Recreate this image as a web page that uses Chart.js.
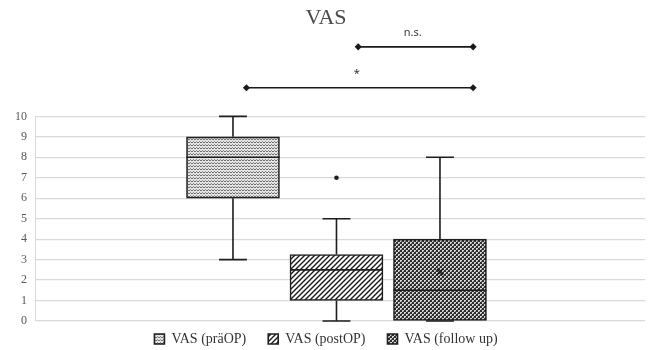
<!DOCTYPE html>
<html>
<head>
<meta charset="utf-8">
<script src="https://cdn.jsdelivr.net/npm/chart.js@4.4.0/dist/chart.umd.min.js"></script>
<style>
  html, body { margin: 0; padding: 0; background: #fff; }
  #wrap { width: 652px; height: 350px; }
</style>
</head>
<body>
<div id="wrap"><canvas id="myChart"></canvas></div>
<script>
// Werte
var seriesLabels = ['VAS (präOP)', 'VAS (postOP)', 'VAS (follow up)'];
var boxPositions = [0, 1, 2];
var minValues = [3, 0, 0];
var q1Values = [6, 1, 0];
var medianValues = [8, 2.5, 1.5];
var q3Values = [9, 3.25, 4];
var maxValues = [10, 5, 8];
var meanValues = [null, null, 2.4];
var outlierValues = [[], [7], []];

// Signifikanzbalken oben
var bracketLabels = ['n.s.', '*'];
var bracketLevels = [13.4, 11.4];
var bracketStart = [1.21, 0.13];
var bracketEnd = [2.32, 2.32];

function makePattern(kind) {
    var c = document.createElement('canvas');
    var g = c.getContext('2d');
    if (kind === 'wave') {
        c.width = 6; c.height = 3;
        g.fillStyle = '#e4e4e4';
        g.fillRect(0, 0, 6, 3);
        g.strokeStyle = '#6e6e6e';
        g.lineWidth = 1;
        g.beginPath();
        g.moveTo(0, 2); g.lineTo(1.5, 0.5); g.lineTo(3, 2); g.lineTo(4.5, 0.5); g.lineTo(6, 2);
        g.stroke();
    } else if (kind === 'diag') {
        c.width = 5; c.height = 5;
        g.fillStyle = '#ffffff';
        g.fillRect(0, 0, 5, 5);
        g.strokeStyle = '#1a1a1a';
        g.lineWidth = 1.4;
        g.beginPath();
        g.moveTo(-1, 6); g.lineTo(6, -1);
        g.moveTo(-1, 1); g.lineTo(1, -1);
        g.moveTo(4, 6); g.lineTo(6, 4);
        g.stroke();
    } else {
        c.width = 4; c.height = 4;
        g.fillStyle = '#2e2e2e';
        g.fillRect(0, 0, 4, 4);
        g.fillStyle = '#d8d8d8';
        g.fillRect(0, 0, 2, 2);
        g.fillRect(2, 2, 2, 2);
        g.fillStyle = '#6a6a6a';
        g.fillRect(1, 1, 1, 1);
        g.fillRect(3, 3, 1, 1);
    }
    return document.getElementById('myChart').getContext('2d').createPattern(c, 'repeat');
}

var patterns = [makePattern('wave'), makePattern('diag'), makePattern('check')];

var datasets = [];
for (var i = 0; i < seriesLabels.length; i++) {
    datasets.push({
        type: 'bar',
        label: seriesLabels[i],
        data: [{x: boxPositions[i], y: [q1Values[i], q3Values[i]]}],
        grouped: false,
        barThickness: 93,
        backgroundColor: patterns[i],
        borderColor: '#1e1e1e',
        borderWidth: 1.6,
        borderSkipped: false
    });
}
for (var j = 0; j < bracketLabels.length; j++) {
    datasets.push({
        type: 'line',
        label: bracketLabels[j],
        isBracket: true,
        data: [{x: bracketStart[j], y: bracketLevels[j]}, {x: bracketEnd[j], y: bracketLevels[j]}],
        borderColor: '#1a1a1a',
        backgroundColor: '#1a1a1a',
        borderWidth: 1.6,
        pointRadius: 0,
        clip: false
    });
}

// Whisker, Median, Mittelwert, Ausreißer, Signifikanz
var boxPlugin = {
    id: 'boxWhisker',
    afterLayout: function (chart) {
        // Legende etwas nach oben ziehen
        chart.legend.top -= 11;
    },
    afterDatasetsDraw: function (chart) {
        var ctx = chart.ctx;
        var y = chart.scales.y;
        ctx.save();
        ctx.strokeStyle = '#1e1e1e';
        ctx.fillStyle = '#1e1e1e';
        ctx.lineWidth = 1.6;
        for (var i = 0; i < seriesLabels.length; i++) {
            var bar = chart.getDatasetMeta(i).data[0];
            var cx = bar.x;
            var halfCap = bar.width * 0.15;
            var left = bar.x - bar.width / 2;
            var right = bar.x + bar.width / 2;
            var pMin = y.getPixelForValue(minValues[i]);
            var pMax = y.getPixelForValue(maxValues[i]);
            var pQ1 = y.getPixelForValue(q1Values[i]);
            var pQ3 = y.getPixelForValue(q3Values[i]);
            var pMed = y.getPixelForValue(medianValues[i]);
            ctx.beginPath();
            ctx.moveTo(cx, pQ3); ctx.lineTo(cx, pMax);
            ctx.moveTo(cx - halfCap, pMax); ctx.lineTo(cx + halfCap, pMax);
            ctx.moveTo(cx, pQ1); ctx.lineTo(cx, pMin);
            ctx.moveTo(cx - halfCap, pMin); ctx.lineTo(cx + halfCap, pMin);
            ctx.moveTo(left, pMed); ctx.lineTo(right, pMed);
            ctx.stroke();
            if (meanValues[i] !== null) {
                var pm = y.getPixelForValue(meanValues[i]);
                ctx.beginPath();
                ctx.moveTo(cx - 3, pm - 3); ctx.lineTo(cx + 3, pm + 3);
                ctx.moveTo(cx + 3, pm - 3); ctx.lineTo(cx - 3, pm + 3);
                ctx.stroke();
            }
            outlierValues[i].forEach(function (v) {
                ctx.beginPath();
                ctx.arc(cx, y.getPixelForValue(v), 2.3, 0, Math.PI * 2);
                ctx.fill();
            });
        }
        // Rauten an den Enden und Beschriftung
        ctx.font = '11px "Noto Sans", sans-serif';
        ctx.textAlign = 'center';
        ctx.textBaseline = 'bottom';
        for (var j = 0; j < bracketLabels.length; j++) {
            var meta = chart.getDatasetMeta(seriesLabels.length + j);
            meta.data.forEach(function (p) {
                ctx.fillStyle = '#1a1a1a';
                ctx.beginPath();
                ctx.moveTo(p.x, p.y - 3.6);
                ctx.lineTo(p.x + 3.6, p.y);
                ctx.lineTo(p.x, p.y + 3.6);
                ctx.lineTo(p.x - 3.6, p.y);
                ctx.closePath();
                ctx.fill();
            });
            var p0 = meta.data[0], p1 = meta.data[1];
            ctx.fillStyle = '#333';
            ctx.fillText(bracketLabels[j], (p0.x + p1.x) / 2 - 3, p0.y - 8);
        }
        ctx.restore();
    }
};

var ctx = document.getElementById('myChart').getContext('2d');
var myChart = new Chart(ctx, {
    data: {
        datasets: datasets
    },
    options: {
        responsive: true,
        maintainAspectRatio: false,
        animation: false,
        layout: {
            padding: { left: 7, right: 7, top: 2, bottom: 0 }
        },
        scales: {
            x: {
                type: 'linear',
                min: -1.913,
                max: 3.981,
                offset: false,
                ticks: { display: false },
                grid: { display: false, drawTicks: false },
                border: { display: false }
            },
            y: {
                min: 0,
                max: 10,
                ticks: {
                    stepSize: 1,
                    padding: 8,
                    color: '#595959',
                    font: { family: '"Liberation Serif", serif', size: 12 }
                },
                grid: { color: '#d9d9d9', lineWidth: 1.2, drawTicks: false },
                border: { color: '#d9d9d9' }
            }
        },
        plugins: {
            title: {
                display: true,
                text: 'VAS',
                color: '#4a4a4a',
                font: { family: '"Liberation Serif", serif', size: 22, weight: 'normal' },
                padding: { top: 3, bottom: 85 }
            },
            legend: {
                position: 'bottom',
                labels: {
                    boxWidth: 10,
                    boxHeight: 10,
                    padding: 22,
                    color: '#333',
                    font: { family: '"Liberation Serif", serif', size: 14 },
                    filter: function (item, data) {
                        return !data.datasets[item.datasetIndex].isBracket;
                    }
                }
            },
            tooltip: { enabled: false }
        }
    },
    plugins: [boxPlugin, {
        id: 'legendHeight',
        beforeInit: function (chart) {
            var origFit = chart.legend.fit;
            chart.legend.fit = function () {
                origFit.call(this);
                this.height = 29;
            };
        }
    }]
});
</script>
</body>
</html>
